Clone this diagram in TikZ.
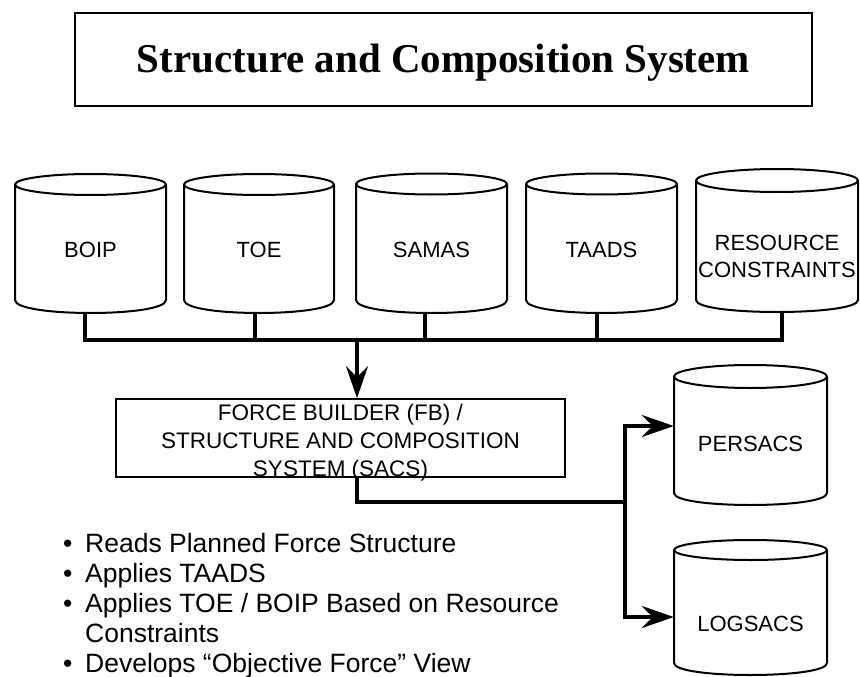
\documentclass[tikz,border=0pt]{standalone}
\usepackage{fontspec}
\setmainfont{Liberation Sans}
\newfontfamily\titlefont{Liberation Serif}
\usetikzlibrary{arrows.meta}
\tikzset{
  cylline/.style={line width=2pt, line join=round},
  bus/.style={line width=4pt},
  tip/.style={-{Stealth[length=32pt,width=22pt,inset=11pt]}},
  lbl/.style={anchor=base, inner sep=0pt, font=\fontsize{22}{26}\selectfont},
  fbl/.style={anchor=base, inner sep=0pt, font=\fontsize{22.5}{26}\selectfont},
  bul/.style={anchor=base west, inner sep=0pt, font=\fontsize{26.5}{30}\selectfont},
}
% name, L, R, top-ellipse centre y, ry, side end y, bottom y
\newcommand\drum[7]{%
  \node[inner sep=0pt, minimum width={(#3)-(#2)}, minimum height={(#7)-(#4)+(#5)}] (#1) at ({((#2)+(#3))/2},{((#4)-(#5)+(#7))/2}) {};
  \draw[cylline] (#2,#4) -- (#2,#6) .. controls (#2,{(#6)+4/3*((#7)-(#6))}) and (#3,{(#6)+4/3*((#7)-(#6))}) .. (#3,#6) -- (#3,#4);
  \draw[cylline] ({((#2)+(#3))/2},#4) ellipse[x radius={((#3)-(#2))/2}, y radius=#5];
}
\begin{document}
\begin{tikzpicture}[x=1pt,y=-1pt]
\useasboundingbox (0,0) rectangle (860,677);
% title
\node[draw, line width=2.5pt, minimum width=737pt, minimum height=93pt, inner sep=0pt] (tbox) at (443.5,59.5) {};
\node[anchor=base, inner sep=0pt, font=\titlefont\bfseries\fontsize{41}{48}\selectfont] (ttl) at (443.5,73) {Structure and Composition System};
% source cylinders
\drum{boip}{15}{166}{184.5}{10.5}{300}{313}
\drum{toe}{184}{334}{184.5}{10.5}{300}{313}
\drum{samas}{356}{507}{184}{10.5}{300}{313}
\drum{taads}{526}{677}{184}{10.5}{300}{313}
\drum{res}{696}{858}{180.5}{11.5}{300}{312}
\node[lbl] (tboip) at (90.5,257) {BOIP};
\node[lbl] (ttoe) at (259,257) {TOE};
\node[lbl] (tsamas) at (431.5,257) {SAMAS};
\node[lbl] (ttaads) at (601.5,257) {TAADS};
\node[lbl] (tres1) at (777,250) {RESOURCE};
\node[lbl] (tres2) at (777,277) {CONSTRAINTS};
% output cylinders
\drum{pers}{674}{827}{376.5}{11.5}{493}{505}
\drum{logs}{674}{827}{550}{10}{663}{675}
\node[lbl] (tpers) at (750.5,451) {PERSACS};
\node[lbl] (tlogs) at (750.5,631) {LOGSACS};
% force builder box
\node[draw, line width=1.6pt, minimum width=449pt, minimum height=78pt, inner sep=0pt] (fb) at (340.5,438) {};
\node[fbl] (fb1) at (340.5,420) {FORCE BUILDER (FB) /};
\node[fbl] (fb2) at (340.5,448) {STRUCTURE AND COMPOSITION};
\node[fbl] (fb3) at (340.5,476) {SYSTEM (SACS)};
% bus
\coordinate (bus) at (357,340);
\draw[bus] ([xshift=-5.5pt]boip.south) |- (bus) -| ([xshift=5pt]res.south);
\draw[bus] ([xshift=-4pt]toe.south) -- ([xshift=-4pt]toe.south |- bus);
\draw[bus] ([xshift=-6.5pt]samas.south) -- ([xshift=-6.5pt]samas.south |- bus);
\draw[bus] ([xshift=-4.5pt]taads.south) -- ([xshift=-4.5pt]taads.south |- bus);
\draw[bus,tip] (bus) -- (bus |- fb.north);
% outputs
\coordinate (split) at (625,502);
\path (pers.west) ++(0,-9) coordinate (pa);
\path (logs.west) ++(0,9.5) coordinate (la);
\draw[bus] (bus |- fb.south) |- (split);
\draw[bus,tip] (split) |- (pa);
\draw[bus,tip] (split) |- (la);
% bullets
\node[bul] (d1) at (63,552) {•};
\node[bul] (l1) at (85,552) {Reads Planned Force Structure};
\node[bul] (d2) at (63,582) {•};
\node[bul] (l2) at (85,582) {Applies TAADS};
\node[bul] (d3) at (63,612) {•};
\node[bul] (l3) at (85,612) {Applies TOE / BOIP Based on Resource};
\node[bul] (l4) at (85,642) {Constraints};
\node[bul] (d5) at (63,672) {•};
\node[bul] (l5) at (85,672) {Develops “Objective Force” View};
\end{tikzpicture}
\end{document}
